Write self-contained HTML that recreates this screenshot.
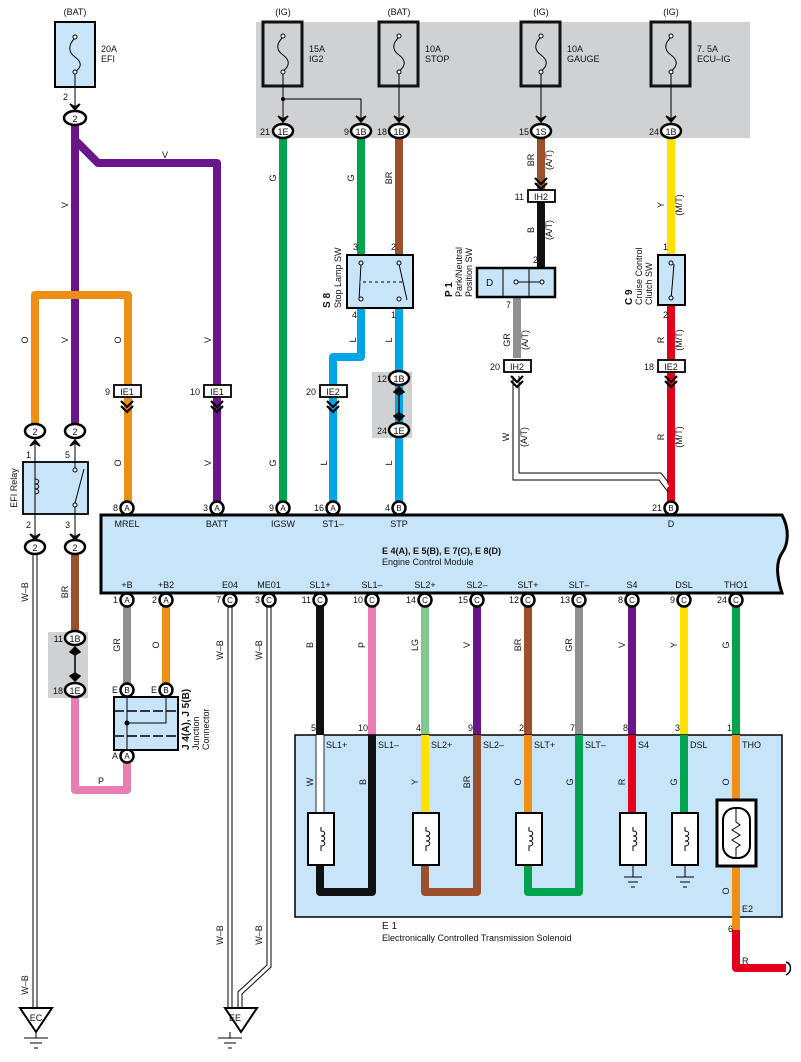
<!DOCTYPE html>
<html><head><meta charset="utf-8"><style>
html,body{margin:0;padding:0;background:#fff}
svg{display:block}
text{font-family:"Liberation Sans",sans-serif;fill:#111}
.s{font-size:9px}.m{font-size:10px}
</style></head><body>
<svg width="801" height="1062" viewBox="0 0 801 1062" xmlns="http://www.w3.org/2000/svg">
<defs>
<g id="ch"><path d="M-6,-8 L0,-2 L6,-8 M-6,-3 L0,3 L6,-3" stroke="#000" stroke-width="2.2" fill="none"/></g>
<g id="ar"><path d="M-5,-6 L0,0 L5,-6 L0,-3 Z" fill="#000" stroke="#000" stroke-width="1.5"/></g>
<g id="coil"><path d="M0,-12 L0,-8 C5,-8 5,-3 0,-3 C5,-3 5,2 0,2 C5,2 5,7 0,7 L0,12" stroke="#000" stroke-width="1" fill="none"/></g>
</defs>

<!-- gray top box -->
<rect x="256" y="22" width="494" height="116" fill="#d0d1d3"/>
<rect x="372" y="372" width="40" height="66" fill="#d0d1d3"/>
<rect x="48" y="632" width="40" height="66" fill="#d0d1d3"/>

<!-- wires -->
<g fill="none" stroke-width="8" stroke-linejoin="round">
<path d="M75,125 V425 M75,140 L98,163 H217 V505" stroke="#6a168a"/>
<path d="M35,425 V295 H128 V505" stroke="#ef8e14"/>
<path d="M283,138 V505 M361,138 V255" stroke="#00a44f"/>
<path d="M399,138 V255" stroke="#9b4f2b"/>
<path d="M361,307 V357 H333 V505 M399,307 V505" stroke="#00a5e6"/>
<path d="M541,138 V190" stroke="#9b4f2b"/>
<path d="M541,200 V268" stroke="#111"/>
<path d="M517,297 V358" stroke="#909090"/>
<path d="M671,138 V255" stroke="#ffe000"/>
<path d="M671,305 V505" stroke="#e2001a"/>
<path d="M75,555 V632" stroke="#9b4f2b"/>
<path d="M75,698 V790 H127 V763" stroke="#e87db4"/>
<path d="M127,607 V683" stroke="#909090"/>
<path d="M166,607 V683" stroke="#ef8e14"/>
<path d="M320,607 V735" stroke="#111"/>
<path d="M372,607 V735" stroke="#e87db4"/>
<path d="M425,607 V735" stroke="#7fc88f"/>
<path d="M477,607 V735" stroke="#6a168a"/>
<path d="M528,607 V735" stroke="#9b4f2b"/>
<path d="M579,607 V735" stroke="#909090"/>
<path d="M632,607 V735" stroke="#6a168a"/>
<path d="M684,607 V735" stroke="#ffe000"/>
<path d="M736,607 V735" stroke="#00a44f"/>
</g>

<!-- double-line wires -->
<g fill="none" stroke="#000" stroke-width="1">
<path d="M33,555 V1010 M37,555 V1010"/>
<path d="M228,607 V1010 M232,607 V1010"/>
<path d="M267,607 V965 L238,992 V1010 M271,607 V967 L242,994 V1010"/>
<path d="M513,376 V480 H659 L668,492 M519,376 V473 H661 L668,482"/>
</g>
<g fill="none" stroke="#fff" stroke-width="3">
<path d="M35,555 V1008"/><path d="M230,607 V1008"/><path d="M269,607 V966 L240,993 V1008"/>
<path d="M516,378 V476 H660 L668,487"/>
</g>

<!-- EFI fuse -->
<text x="75" y="15" class="s" text-anchor="middle">(BAT)</text>
<rect x="55" y="22" width="40" height="65" fill="#c8e4f8" stroke="#000" stroke-width="2"/>
<path d="M75,38 C68,45 68,52 75,57 C82,62 82,67 75,72" stroke="#000" fill="none"/>
<circle cx="75" cy="37" r="2" fill="#fff" stroke="#000"/><circle cx="75" cy="72" r="2" fill="#fff" stroke="#000"/>
<text x="101" y="52" class="s">20A</text><text x="101" y="62" class="s">EFI</text>
<path d="M75,74 V108" stroke="#000"/><use href="#ar" x="75" y="110"/>
<text x="68" y="100" class="s" text-anchor="end">2</text>

<!-- top fuses -->
<g>
<text x="283" y="15" class="s" text-anchor="middle">(IG)</text>
<text x="399" y="15" class="s" text-anchor="middle">(BAT)</text>
<text x="541" y="15" class="s" text-anchor="middle">(IG)</text>
<text x="671" y="15" class="s" text-anchor="middle">(IG)</text>
<rect x="263" y="22" width="39" height="64" fill="#d0d1d3" stroke="#111" stroke-width="3"/>
<rect x="379" y="22" width="39" height="64" fill="#d0d1d3" stroke="#111" stroke-width="3"/>
<rect x="521" y="22" width="39" height="64" fill="#d0d1d3" stroke="#111" stroke-width="3"/>
<rect x="651" y="22" width="39" height="64" fill="#d0d1d3" stroke="#111" stroke-width="3"/>
<g stroke="#000" fill="none">
<path d="M283,37 C276,44 276,50 283,55 C290,60 290,66 283,71"/>
<path d="M399,37 C392,44 392,50 399,55 C406,60 406,66 399,71"/>
<path d="M541,37 C534,44 534,50 541,55 C548,60 548,66 541,71"/>
<path d="M671,37 C664,44 664,50 671,55 C678,60 678,66 671,71"/>
<path d="M283,72 V118 M283,99 H361 V118 M399,72 V118 M541,72 V118 M671,72 V118"/>
</g>
<circle cx="283" cy="99" r="2" fill="#000"/>
<g fill="#fff" stroke="#000"><circle cx="283" cy="36" r="2"/><circle cx="283" cy="72" r="2"/><circle cx="399" cy="36" r="2"/><circle cx="399" cy="72" r="2"/><circle cx="541" cy="36" r="2"/><circle cx="541" cy="72" r="2"/><circle cx="671" cy="36" r="2"/><circle cx="671" cy="72" r="2"/></g>
<text x="309" y="52" class="s">15A</text><text x="309" y="62" class="s">IG2</text>
<text x="425" y="52" class="s">10A</text><text x="425" y="62" class="s">STOP</text>
<text x="567" y="52" class="s">10A</text><text x="567" y="62" class="s">GAUGE</text>
<text x="697" y="52" class="s">7. 5A</text><text x="697" y="62" class="s">ECU–IG</text>
<use href="#ar" x="283" y="122"/><use href="#ar" x="361" y="122"/><use href="#ar" x="399" y="122"/><use href="#ar" x="541" y="122"/><use href="#ar" x="671" y="122"/>
</g>

<!-- oval connectors -->
<g fill="#fff" stroke="#000" stroke-width="2.5">
<ellipse cx="75" cy="118" rx="11" ry="7"/>
<ellipse cx="283" cy="131" rx="10" ry="7"/><ellipse cx="361" cy="131" rx="10" ry="7"/><ellipse cx="399" cy="131" rx="10" ry="7"/><ellipse cx="541" cy="131" rx="10" ry="7"/><ellipse cx="671" cy="131" rx="10" ry="7"/>
<ellipse cx="35" cy="431" rx="10" ry="7"/><ellipse cx="75" cy="431" rx="10" ry="7"/>
<ellipse cx="35" cy="547" rx="10" ry="7"/><ellipse cx="75" cy="547" rx="10" ry="7"/>
<ellipse cx="399" cy="378" rx="10" ry="7"/><ellipse cx="399" cy="430" rx="10" ry="7"/>
<ellipse cx="75" cy="638" rx="10" ry="7"/><ellipse cx="75" cy="690" rx="10" ry="7"/>
</g>
<g class="s" text-anchor="middle">
<text x="75" y="122">2</text>
<text x="283" y="135">1E</text><text x="361" y="135">1B</text><text x="399" y="135">1B</text><text x="541" y="135">1S</text><text x="671" y="135">1B</text>
<text x="35" y="435">2</text><text x="75" y="435">2</text><text x="35" y="551">2</text><text x="75" y="551">2</text>
<text x="399" y="382">1B</text><text x="399" y="434">1E</text><text x="75" y="642">1B</text><text x="75" y="694">1E</text>
</g>
<g class="s" text-anchor="end">
<text x="270" y="135">21</text><text x="349" y="135">9</text><text x="387" y="135">18</text><text x="529" y="135">15</text><text x="659" y="135">24</text>
<text x="387" y="382">12</text><text x="387" y="434">24</text><text x="63" y="642">11</text><text x="63" y="694">18</text>
</g>
<!-- double arrows in gray boxes -->
<g stroke="#000" stroke-width="1.5" fill="#000">
<path d="M399,389 V419"/><path d="M394,392 L399,387 L404,392 L399,395Z M394,416 L399,421 L404,416 L399,413Z"/>
<path d="M75,649 V679"/><path d="M70,652 L75,647 L80,652 L75,655Z M70,676 L75,681 L80,676 L75,673Z"/>
</g>

<!-- wire labels (rotated) -->
<g class="s" text-anchor="middle">
<text transform="translate(68,205) rotate(-90)">V</text>
<text x="165" y="158">V</text>
<text transform="translate(28,340) rotate(-90)">O</text>
<text transform="translate(68,340) rotate(-90)">V</text>
<text transform="translate(121,340) rotate(-90)">O</text>
<text transform="translate(211,340) rotate(-90)">V</text>
<text transform="translate(121,463) rotate(-90)">O</text>
<text transform="translate(211,463) rotate(-90)">V</text>
<text transform="translate(276,178) rotate(-90)">G</text>
<text transform="translate(354,178) rotate(-90)">G</text>
<text transform="translate(392,178) rotate(-90)">BR</text>
<text transform="translate(276,463) rotate(-90)">G</text>
<text transform="translate(356,340) rotate(-90)">L</text>
<text transform="translate(392,340) rotate(-90)">L</text>
<text transform="translate(327,463) rotate(-90)">L</text>
<text transform="translate(392,463) rotate(-90)">L</text>
<text transform="translate(534,160) rotate(-90)">BR</text>
<text transform="translate(552,160) rotate(-90)">(A/T)</text>
<text transform="translate(534,230) rotate(-90)">B</text>
<text transform="translate(552,230) rotate(-90)">(A/T)</text>
<text transform="translate(510,340) rotate(-90)">GR</text>
<text transform="translate(528,340) rotate(-90)">(A/T)</text>
<text transform="translate(509,437) rotate(-90)">W</text>
<text transform="translate(527,437) rotate(-90)">(A/T)</text>
<text transform="translate(664,205) rotate(-90)">Y</text>
<text transform="translate(682,205) rotate(-90)">(M/T)</text>
<text transform="translate(664,340) rotate(-90)">R</text>
<text transform="translate(682,340) rotate(-90)">(M/T)</text>
<text transform="translate(664,437) rotate(-90)">R</text>
<text transform="translate(682,437) rotate(-90)">(M/T)</text>
<text transform="translate(28,592) rotate(-90)">W–B</text>
<text transform="translate(68,592) rotate(-90)">BR</text>
<text transform="translate(120,645) rotate(-90)">GR</text>
<text transform="translate(159,645) rotate(-90)">O</text>
<text x="101" y="784">P</text>
<text transform="translate(223,650) rotate(-90)">W–B</text>
<text transform="translate(262,650) rotate(-90)">W–B</text>
<text transform="translate(223,935) rotate(-90)">W–B</text>
<text transform="translate(262,935) rotate(-90)">W–B</text>
<text transform="translate(28,985) rotate(-90)">W–B</text>
<text transform="translate(313,645) rotate(-90)">B</text>
<text transform="translate(365,645) rotate(-90)">P</text>
<text transform="translate(418,645) rotate(-90)">LG</text>
<text transform="translate(470,645) rotate(-90)">V</text>
<text transform="translate(521,645) rotate(-90)">BR</text>
<text transform="translate(572,645) rotate(-90)">GR</text>
<text transform="translate(625,645) rotate(-90)">V</text>
<text transform="translate(677,645) rotate(-90)">Y</text>
<text transform="translate(729,645) rotate(-90)">G</text>
</g>

<!-- rect connectors with chevrons -->
<g fill="#fff" stroke="#000" stroke-width="1.8">
<rect x="114" y="385" width="27" height="12"/><rect x="204" y="385" width="27" height="12"/>
<rect x="320" y="385" width="27" height="12"/>
<rect x="528" y="190" width="27" height="12"/>
<rect x="504" y="360" width="27" height="12"/>
<rect x="658" y="360" width="27" height="12"/>
</g>
<g class="s" text-anchor="middle">
<text x="127" y="395">IE1</text><text x="217" y="395">IE1</text><text x="333" y="395">IE2</text>
<text x="541" y="200">IH2</text><text x="517" y="370">IH2</text><text x="671" y="370">IE2</text>
</g>
<g class="s" text-anchor="end">
<text x="110" y="395">9</text><text x="200" y="395">10</text><text x="316" y="395">20</text>
<text x="524" y="200">11</text><text x="500" y="370">20</text><text x="654" y="370">18</text>
</g>
<use href="#ch" x="127" y="409"/><use href="#ch" x="217" y="409"/><use href="#ch" x="333" y="409"/>
<use href="#ch" x="541" y="186"/><use href="#ch" x="517" y="384"/><use href="#ch" x="671" y="384"/>

<!-- EFI relay -->
<rect x="23" y="462" width="65" height="52" fill="#c8e4f8" stroke="#000" stroke-width="1.8"/>
<path d="M35,438 V540 M75,438 V470 M75,505 V540 M84,469 L75,503" stroke="#000" fill="none"/>
<use href="#coil" x="35" y="487"/>
<circle cx="75" cy="470" r="2" fill="#fff" stroke="#000"/><circle cx="75" cy="505" r="2" fill="#fff" stroke="#000"/>
<use href="#ar" x="35" y="440" transform="rotate(180 35 440)"/><use href="#ar" x="75" y="440" transform="rotate(180 75 440)"/>
<use href="#ar" x="35" y="540"/><use href="#ar" x="75" y="540"/>
<g class="s"><text x="26" y="458">1</text><text x="65" y="458">5</text><text x="26" y="528">2</text><text x="65" y="528">3</text></g>
<text transform="translate(17,488) rotate(-90)" class="s" text-anchor="middle" fill="#333">EFI Relay</text>

<!-- Stop lamp SW -->
<rect x="347" y="255" width="66" height="53" fill="#c8e4f8" stroke="#000" stroke-width="2"/>
<path d="M361,264 L359,300 M399,264 L407,300 M360,282 H402" stroke="#000" fill="none"/>
<path d="M360,282 H402" stroke="#c8e4f8" stroke-dasharray="3,3"/>
<g fill="#fff" stroke="#000"><circle cx="361" cy="263" r="2"/><circle cx="361" cy="299" r="2"/><circle cx="399" cy="263" r="2"/><circle cx="399" cy="299" r="2"/></g>
<g class="s"><text x="353" y="250">3</text><text x="391" y="250">2</text><text x="352" y="318">4</text><text x="391" y="318">1</text></g>
<text transform="translate(330,308) rotate(-90)" class="m" font-weight="bold">S 8</text>
<text transform="translate(341,308) rotate(-90)" class="s">Stop Lamp SW</text>

<!-- P1 -->
<rect x="477" y="268" width="78" height="29" fill="#c8e4f8" stroke="#000" stroke-width="2.5"/>
<path d="M503,268 V297 M529,268 V297 M516,282 H542" stroke="#000" fill="none"/>
<circle cx="516" cy="282" r="2" fill="#fff" stroke="#000"/><circle cx="542" cy="282" r="2" fill="#fff" stroke="#000"/>
<text x="486" y="286" class="m">D</text>
<g class="s"><text x="533" y="263">2</text><text x="506" y="308">7</text></g>
<text transform="translate(452,297) rotate(-90)" class="m" font-weight="bold">P 1</text>
<text transform="translate(462,297) rotate(-90)" class="s">Park/Neutral</text>
<text transform="translate(472,297) rotate(-90)" class="s">Position SW</text>

<!-- C9 -->
<rect x="658" y="255" width="27" height="50" fill="#c8e4f8" stroke="#000" stroke-width="2"/>
<path d="M671,262 V265 M674,264 L671,300" stroke="#000" fill="none"/>
<circle cx="671" cy="263" r="2" fill="#fff" stroke="#000"/><circle cx="671" cy="298" r="2" fill="#fff" stroke="#000"/>
<g class="s"><text x="663" y="250">1</text><text x="663" y="318">2</text></g>
<text transform="translate(632,305) rotate(-90)" class="m" font-weight="bold">C 9</text>
<text transform="translate(642,305) rotate(-90)" class="s">Cruise Control</text>
<text transform="translate(652,305) rotate(-90)" class="s">Clutch SW</text>

<!-- ECM -->
<path d="M101,515 H782 C790,530 788,545 782,553 C776,562 776,575 782,593 H101 Z" fill="#c8e4f8" stroke="#000" stroke-width="3"/>
<text x="382" y="554" class="s" font-weight="bold">E 4(A), E 5(B), E 7(C), E 8(D)</text>
<text x="382" y="565" class="s">Engine Control Module</text>
<g class="s" text-anchor="middle">
<text x="127" y="527">MREL</text><text x="217" y="527">BATT</text><text x="283" y="527">IGSW</text><text x="333" y="527">ST1–</text><text x="399" y="527">STP</text><text x="671" y="527">D</text>
<text x="127" y="588">+B</text><text x="166" y="588">+B2</text><text x="230" y="588">E04</text><text x="269" y="588">ME01</text>
<text x="320" y="588">SL1+</text><text x="372" y="588">SL1–</text><text x="425" y="588">SL2+</text><text x="477" y="588">SL2–</text><text x="528" y="588">SLT+</text><text x="579" y="588">SLT–</text><text x="632" y="588">S4</text><text x="684" y="588">DSL</text><text x="736" y="588">THO1</text>
</g>
<g fill="#fff" stroke="#000" stroke-width="2.5">
<circle cx="127" cy="508" r="6.5"/><circle cx="217" cy="508" r="6.5"/><circle cx="283" cy="508" r="6.5"/><circle cx="333" cy="508" r="6.5"/><circle cx="399" cy="508" r="6.5"/><circle cx="671" cy="508" r="6.5"/>
<circle cx="127" cy="600" r="6.5"/><circle cx="166" cy="600" r="6.5"/><circle cx="230" cy="600" r="6.5"/><circle cx="269" cy="600" r="6.5"/>
<circle cx="320" cy="600" r="6.5"/><circle cx="372" cy="600" r="6.5"/><circle cx="425" cy="600" r="6.5"/><circle cx="477" cy="600" r="6.5"/><circle cx="528" cy="600" r="6.5"/><circle cx="579" cy="600" r="6.5"/><circle cx="632" cy="600" r="6.5"/><circle cx="684" cy="600" r="6.5"/><circle cx="736" cy="600" r="6.5"/>
<circle cx="127" cy="690" r="6.5"/><circle cx="166" cy="690" r="6.5"/><circle cx="127" cy="756" r="6.5"/>
</g>
<g font-size="8" text-anchor="middle">
<text x="127" y="511">A</text><text x="217" y="511">A</text><text x="283" y="511">A</text><text x="333" y="511">A</text><text x="399" y="511">B</text><text x="671" y="511">B</text>
<text x="127" y="603">A</text><text x="166" y="603">A</text><text x="230" y="603">C</text><text x="269" y="603">C</text>
<text x="320" y="603">C</text><text x="372" y="603">C</text><text x="425" y="603">C</text><text x="477" y="603">C</text><text x="528" y="603">C</text><text x="579" y="603">C</text><text x="632" y="603">C</text><text x="684" y="603">C</text><text x="736" y="603">C</text>
<text x="127" y="693">B</text><text x="166" y="693">B</text><text x="127" y="759">A</text>
</g>
<g class="s" text-anchor="end">
<text x="118" y="511">8</text><text x="208" y="511">3</text><text x="274" y="511">9</text><text x="324" y="511">16</text><text x="390" y="511">4</text><text x="662" y="511">21</text>
<text x="118" y="603">1</text><text x="157" y="603">2</text><text x="221" y="603">7</text><text x="260" y="603">3</text>
<text x="311" y="603">11</text><text x="363" y="603">10</text><text x="416" y="603">14</text><text x="468" y="603">15</text><text x="519" y="603">12</text><text x="570" y="603">13</text><text x="623" y="603">8</text><text x="675" y="603">9</text><text x="727" y="603">24</text>
<text x="118" y="693">E</text><text x="157" y="693">E</text><text x="118" y="759">A</text>
</g>

<!-- junction connector -->
<rect x="114" y="697" width="64" height="53" fill="#c8e4f8" stroke="#000" stroke-width="2"/>
<path d="M127,697 V750 M166,697 V723 H127" stroke="#000" fill="none"/>
<path d="M114,711 H178 M114,736 H178" stroke="#000" stroke-width="1.5" stroke-dasharray="10,3"/>
<circle cx="127" cy="723" r="2.5" fill="#000"/>
<text transform="translate(189,750) rotate(-90)" class="m" font-weight="bold">J 4(A), J 5(B)</text>
<text transform="translate(199,750) rotate(-90)" class="s">Junction</text>
<text transform="translate(209,750) rotate(-90)" class="s">Connector</text>

<!-- solenoid box -->
<rect x="295" y="735" width="487" height="182" fill="#c8e4f8" stroke="#000" stroke-width="1.5"/>
<g fill="none" stroke-linejoin="round">
<path d="M320,735 V813" stroke="#fff" stroke-width="7"/>
<path d="M320,735 V813" stroke="#000" stroke-width="1" stroke-dasharray="0" opacity="0"/>
<path d="M320,865 V892 H372 V735" stroke="#111" stroke-width="8"/>
<path d="M425,735 V813" stroke="#ffe000" stroke-width="8"/>
<path d="M425,865 V892 H477 V735" stroke="#9b4f2b" stroke-width="8"/>
<path d="M528,735 V813" stroke="#ef8e14" stroke-width="8"/>
<path d="M528,865 V892 H579 V735" stroke="#00a44f" stroke-width="8"/>
<path d="M632,735 V813" stroke="#e2001a" stroke-width="8"/>
<path d="M684,735 V813" stroke="#00a44f" stroke-width="8"/>
<path d="M736,735 V800 M736,866 V930" stroke="#ef8e14" stroke-width="8"/>
<path d="M736,930 V968 H786" stroke="#e2001a" stroke-width="8"/>
</g>
<path d="M316,735 V813 M324,735 V813" stroke="#000" stroke-width="0.8"/>
<path d="M786,962 C792,964 792,972 786,975" stroke="#000" fill="none" stroke-width="1.5"/>
<g fill="#fff" stroke="#000" stroke-width="2">
<rect x="308" y="813" width="26" height="52"/><rect x="413" y="813" width="26" height="52"/><rect x="516" y="813" width="26" height="52"/><rect x="620" y="813" width="26" height="52"/><rect x="672" y="813" width="26" height="52"/>
<rect x="717" y="800" width="39" height="66" stroke-width="3"/>
<rect x="723" y="808" width="27" height="50" rx="12"/>
</g>
<use href="#coil" x="321" y="839"/><use href="#coil" x="426" y="839"/><use href="#coil" x="529" y="839"/><use href="#coil" x="633" y="839"/><use href="#coil" x="685" y="839"/>
<path d="M736,808 V822 L740,825 L732,830 L740,835 L732,840 L740,845 L736,848 V858 M633,865 V877 M685,865 V877 M624,877 H642 M628,882 H638 M631,887 H635 M676,877 H694 M680,882 H690 M683,887 H687" stroke="#000" fill="none"/>
<g class="s">
<text x="326" y="748">SL1+</text><text x="378" y="748">SL1–</text><text x="431" y="748">SL2+</text><text x="483" y="748">SL2–</text><text x="534" y="748">SLT+</text><text x="585" y="748">SLT–</text><text x="638" y="748">S4</text><text x="690" y="748">DSL</text><text x="742" y="748">THO</text>
<text x="742" y="912">E2</text><text x="728" y="932">6</text><text x="742" y="964">R</text>
</g>
<g class="s" text-anchor="end">
<text x="316" y="731">5</text><text x="368" y="731">10</text><text x="421" y="731">4</text><text x="473" y="731">9</text><text x="524" y="731">2</text><text x="575" y="731">7</text><text x="628" y="731">8</text><text x="680" y="731">3</text><text x="732" y="731">1</text>
</g>
<g class="s" text-anchor="middle">
<text transform="translate(313,782) rotate(-90)">W</text><text transform="translate(366,782) rotate(-90)">B</text><text transform="translate(418,782) rotate(-90)">Y</text><text transform="translate(470,782) rotate(-90)">BR</text><text transform="translate(521,782) rotate(-90)">O</text><text transform="translate(573,782) rotate(-90)">G</text><text transform="translate(625,782) rotate(-90)">R</text><text transform="translate(677,782) rotate(-90)">G</text><text transform="translate(729,782) rotate(-90)">O</text><text transform="translate(729,891) rotate(-90)">O</text>
</g>
<text x="382" y="929" class="m">E 1</text>
<text x="382" y="941" class="s">Electronically Controlled Transmission Solenoid</text>

<!-- grounds -->
<path d="M20,1008 H52 L36,1032 Z M225,1008 H257 L241,1032 Z" fill="#fff" stroke="#000" stroke-width="2"/>
<text x="36" y="1021" class="s" text-anchor="middle">EC</text>
<text x="235" y="1021" class="s" text-anchor="middle">EE</text>
<path d="M36,1032 V1038 M24,1038 H48 M30,1043 H42 M34,1048 H38 M230,1032 V1038 M218,1038 H242 M224,1043 H236 M228,1048 H232" stroke="#000"/>
</svg>
</body></html>
